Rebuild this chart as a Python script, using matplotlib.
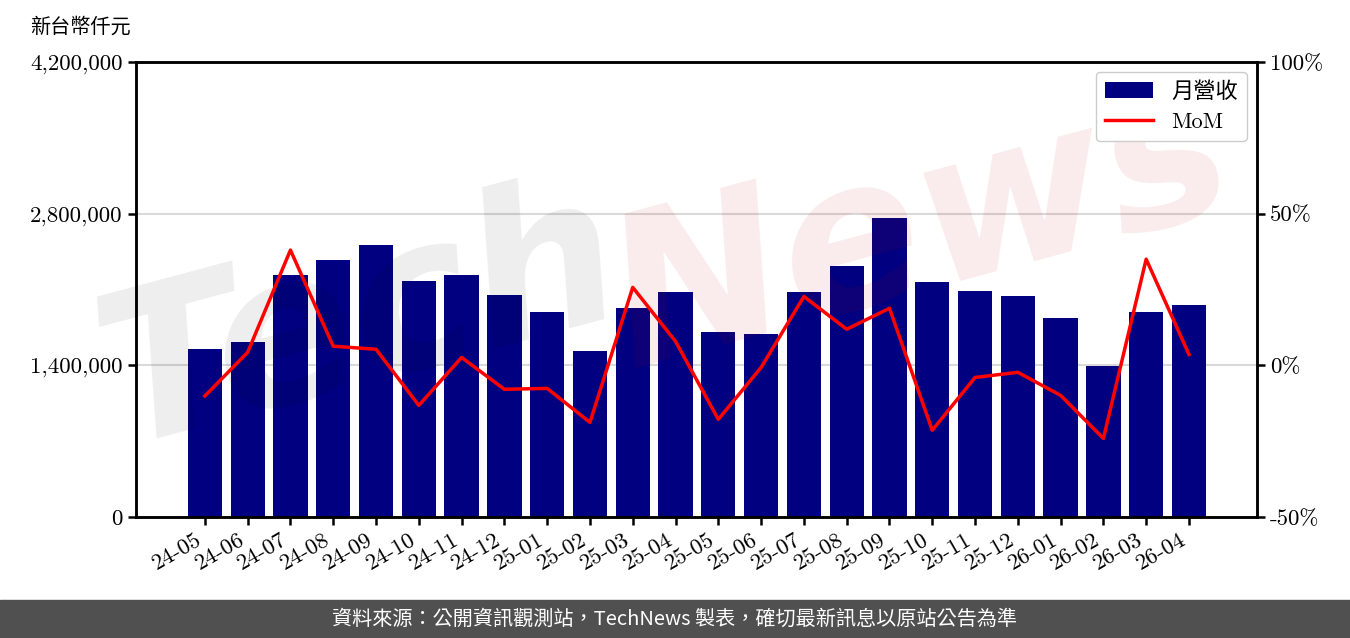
import matplotlib
matplotlib.use("Agg")
import matplotlib.pyplot as plt
from matplotlib.ticker import FuncFormatter, FixedLocator
from matplotlib.patches import Rectangle

plt.rcParams['axes.unicode_minus'] = False

months = ["24-05", "24-06", "24-07", "24-08", "24-09", "24-10", "24-11", "24-12",
          "25-01", "25-02", "25-03", "25-04", "25-05", "25-06", "25-07", "25-08",
          "25-09", "25-10", "25-11", "25-12", "26-01", "26-02", "26-03", "26-04"]
revenue = [1551000, 1615000, 2234000, 2372000, 2511000, 2178000, 2234000, 2049000,
           1892000, 1532000, 1929000, 2077000, 1708000, 1689000, 2077000, 2317000,
           2760000, 2169000, 2086000, 2040000, 1837000, 1394000, 1892000, 1957000]
mom = [-10.1, 4.3, 38.0, 6.3, 5.3, -13.2, 2.6, -7.9,
       -7.6, -18.8, 25.7, 7.9, -17.8, -0.7, 22.7, 11.9,
       18.8, -21.4, -4.0, -2.3, -9.9, -24.1, 35.0, 3.6]
left_ticks = [0, 1400000, 2800000, 4200000]
right_ticks = [-50, 0, 50, 100]

FONT = ['cmr10', 'Noto Sans CJK TC', 'DejaVu Serif']
CJK = ['Noto Sans CJK TC', 'DejaVu Sans']
FS = 16.5

fig = plt.figure(figsize=(13.5, 6.38), dpi=100)
ax = fig.add_axes([136/1350, 1-517/638, (1257-136)/1350, (517-62)/638])
ax2 = ax.twinx()

x = list(range(len(months)))
bars = ax.bar(x, revenue, width=0.8, color='#000080', zorder=2, label='月營收')
line, = ax2.plot(x, mom, color='red', lw=2.5, zorder=5, label='MoM')

ax.set_xlim(-1.61, 24.59)
ax.set_ylim(0, 4200000)
ax2.set_ylim(-50, 100)
ax.yaxis.set_major_locator(FixedLocator(left_ticks))
ax2.yaxis.set_major_locator(FixedLocator(right_ticks))
ax.yaxis.set_major_formatter(FuncFormatter(lambda v, p: f"{int(v):,}"))
ax2.yaxis.set_major_formatter(FuncFormatter(lambda v, p: f"{int(v)}%"))
ax.set_xticks(x)
ax.set_xticklabels(months, rotation=30, ha='right', rotation_mode='default')

for a in (ax, ax2):
    for s in a.spines.values():
        s.set_linewidth(1.8)
    a.tick_params(width=1.8, length=6, labelsize=FS)
    for lab in a.get_xticklabels() + a.get_yticklabels():
        lab.set_family(FONT)
ax.grid(axis='y', color='#d9d9d9', lw=1.5, zorder=0)
ax.set_axisbelow(True)
ax2.patch.set_visible(False)

# watermark
wm1 = ax.text(0.20, 0.43, "Tech", transform=ax.transAxes, fontsize=150, fontstyle='italic',
              fontweight='bold', family='DejaVu Sans', color='black', alpha=0.07,
              rotation=15, ha='center', va='center', zorder=3)
wm2 = ax.text(0.70, 0.63, "News", transform=ax.transAxes, fontsize=150, fontstyle='italic',
              fontweight='bold', family='DejaVu Sans', color='#c00000', alpha=0.08,
              rotation=15, ha='center', va='center', zorder=3)

leg = ax2.legend([bars, line], ['月營收', 'MoM'], loc='upper right',
                 prop={'family': FONT, 'size': 16}, framealpha=1,
                 bbox_to_anchor=(0.991, 0.978), borderaxespad=0, handlelength=2.2)
leg.get_frame().set_edgecolor('#cccccc')

fig.text(30/1350, 1-27/638, "新台幣仟元", family=CJK, fontsize=14.5, va='center', ha='left')

# footer band
fig.patches.append(Rectangle((0, 0), 1, 38/638, transform=fig.transFigure,
                             color='#505050', zorder=0))
fig.text(0.5, 19/638, "資料來源：公開資訊觀測站，TechNews 製表，確切最新訊息以原站公告為準",
         family=CJK, fontsize=14.5, color='white', ha='center', va='center')

fig.savefig("out.png", dpi=100)
